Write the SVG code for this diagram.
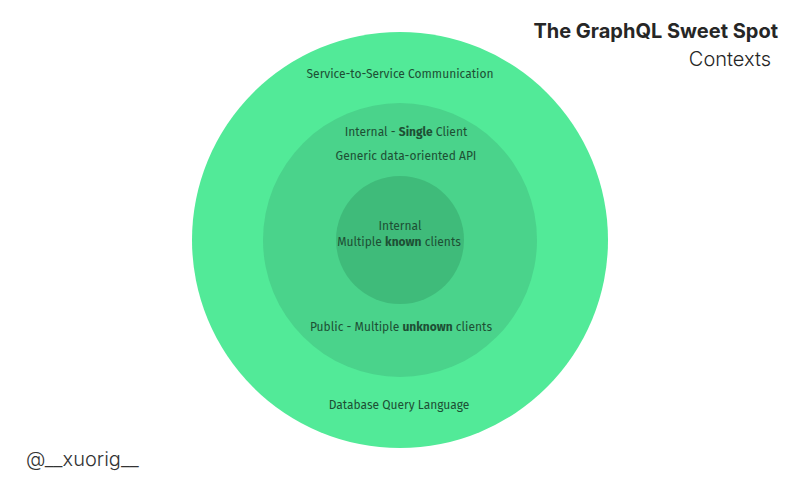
<svg xmlns="http://www.w3.org/2000/svg" width="800" height="480" viewBox="0 0 800 480">
<style>
.lbl{font-family:"Fira Sans","Noto Sans","Open Sans",sans-serif;font-size:12px;fill:#1d4f34;text-anchor:middle}
.b{font-weight:700}
.title{font-family:Inter,"Liberation Sans",sans-serif;fill:#262626;text-anchor:end}
</style>
<rect width="800" height="480" fill="#ffffff"/>
<g id="outer">
<circle cx="400" cy="240" r="208" fill="#52EA98"/>
<text class="lbl" x="400" y="78">Service-to-Service Communication</text>
<text class="lbl" x="399" y="409">Database Query Language</text>
</g>
<g id="middle">
<circle cx="400" cy="240" r="137" fill="#4AD38B"/>
<text class="lbl" x="406" y="136">Internal - <tspan class="b">Single</tspan> Client</text>
<text class="lbl" x="406" y="160">Generic data-oriented API</text>
<text class="lbl" x="401" y="331">Public - Multiple <tspan class="b">unknown</tspan> clients</text>
</g>
<g id="inner">
<circle cx="400" cy="240" r="64" fill="#3FBB7A"/>
<text class="lbl" x="400" y="230">Internal</text>
<text class="lbl" x="399" y="246">Multiple <tspan class="b">known</tspan> clients</text>
</g>
<g id="titles">
<text class="title" x="778" y="38" font-size="20" font-weight="700">The GraphQL Sweet Spot</text>
<text class="title" x="771" y="66" font-size="20" font-weight="300">Contexts</text>
<text x="26" y="466" font-family="Inter,'Liberation Sans',sans-serif" font-size="20" font-weight="300" fill="#333333">@__xuorig__</text>
</g>
</svg>
